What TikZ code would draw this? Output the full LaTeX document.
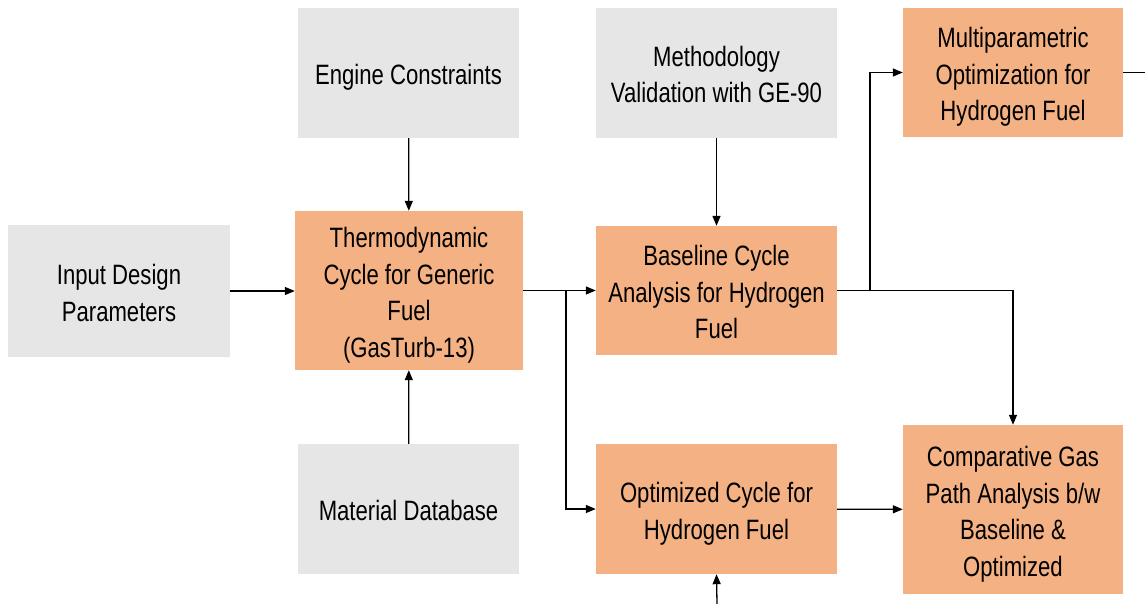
\documentclass[tikz,border=0pt]{standalone}
\usepackage{fontspec}
\setmainfont{Liberation Sans}[FakeStretch=0.79]
\usetikzlibrary{arrows.meta}
\definecolor{stepfill}{HTML}{F4B183}
\definecolor{inputfill}{HTML}{E6E6E6}
% fixed ascent of the first line and descent of the last line of a block
\newcommand{\hdtop}{\rule{0pt}{30pt}}
\newcommand{\hdbot}{\rule[-6.5pt]{0pt}{6.5pt}}
\tikzset{
  box/.style={rectangle, inner sep=0pt, align=center, text=black,
    font=\fontsize{28}{36.5}\selectfont},
  inbox/.style={box, fill=inputfill},
  procbox/.style={box, fill=stepfill},
  arr/.style={line width=1.3pt, -{Triangle[length=10pt,width=8pt]}},
  ln/.style={line width=1.3pt}
}
\begin{document}
\begin{tikzpicture}[x=1pt,y=-1pt]
\useasboundingbox (0,0) rectangle (1145,604);
% input and constraint blocks
\node[inbox, minimum width=222pt, minimum height=132pt] (inp) at (119,291) {\hdtop Input Design\\Parameters\hdbot};
\node[inbox, minimum width=221pt, minimum height=130pt] (eng) at (408.5,73) {\hdtop Engine Constraints\hdbot};
\node[inbox, minimum width=221pt, minimum height=130pt] (mat) at (408.5,509) {\hdtop Material Database\hdbot};
\node[inbox, minimum width=241pt, minimum height=130pt] (meth) at (716.5,73) {\hdtop Methodology\\Validation with GE-90\hdbot};
% process blocks
\node[procbox, minimum width=228pt, minimum height=159pt] (thermo) at (409,290.5) {\hdtop Thermodynamic\\Cycle for Generic\\Fuel\\(GasTurb-13)\hdbot};
\node[procbox, minimum width=241pt, minimum height=129pt] (base) at (716.5,290.5) {\hdtop Baseline Cycle\\Analysis for Hydrogen\\Fuel\hdbot};
\node[procbox, minimum width=241pt, minimum height=130pt] (opt) at (716.5,509) {\hdtop Optimized Cycle for\\Hydrogen Fuel\hdbot};
\node[procbox, minimum width=220pt, minimum height=129pt] (multi) at (1013,72.5) {\hdtop Multiparametric\\Optimization for\\Hydrogen Fuel\hdbot};
\node[procbox, minimum width=220pt, minimum height=169pt] (comp) at (1013,509.5) {\hdtop Comparative Gas\\Path Analysis b/w\\Baseline \&\\Optimized\hdbot};
% junctions and free ends
\coordinate (j1) at (566,290.5);
\coordinate (j2) at (870,290.5);
\coordinate (mout) at (1145,72.5);
\coordinate (bin) at (717,604);
% connectors
\draw[arr] (inp.east) -- (thermo.west|-inp.east);
\draw[arr] (eng) -- (thermo);
\draw[arr] (mat) -- (thermo);
\draw[arr] (meth) -- (base);
\draw[arr] (thermo.east) -- (base.west);
\draw[arr] (j1) |- (opt.west);
\draw[ln] (base.east) -- (j2);
\draw[arr] (j2) |- (multi.west);
\draw[arr] (j2) -| (comp.north);
\draw[arr] (opt) -- (comp);
\draw[ln] (multi.east) -- (mout);
\draw[arr] (bin) -- (opt.south);
\end{tikzpicture}
\end{document}
